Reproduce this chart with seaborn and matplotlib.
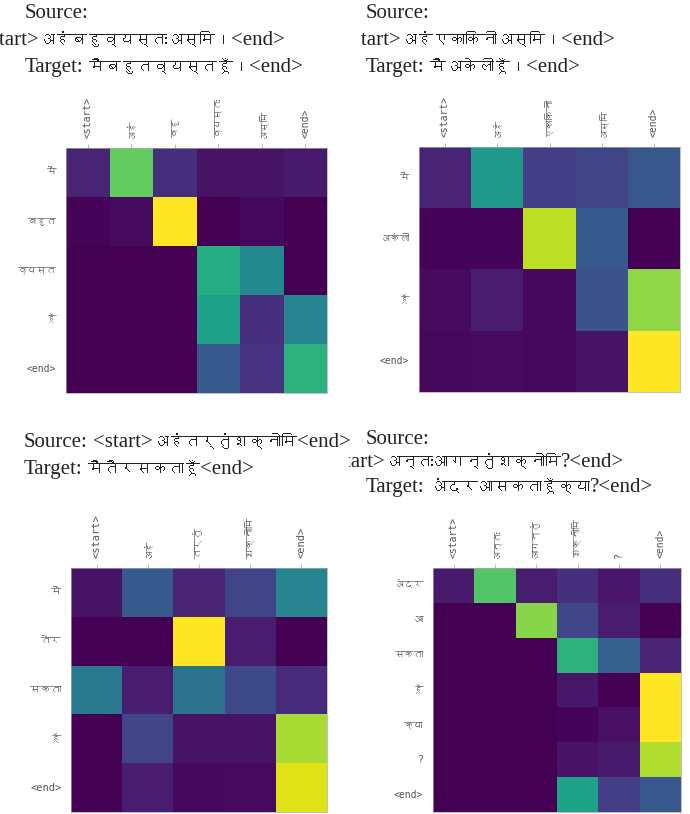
import re
import numpy as np
import matplotlib
matplotlib.use("Agg")
import matplotlib.pyplot as plt
import seaborn as sns
from matplotlib import font_manager
from matplotlib.ft2font import FT2Font

# ---------------- data (attention weights) ----------------
SRC_1 = ["<start>", "अहं", "बहु", "व्यस्तः", "अस्मि", "<end>"]
TGT_1 = ["मैं", "बहुत", "व्यस्त", "हूँ", "<end>"]
ATT_1 = [
    [0.10, 0.76, 0.13, 0.05, 0.05, 0.07],
    [0.01, 0.03, 1.00, 0.00, 0.02, 0.00],
    [0.00, 0.00, 0.00, 0.62, 0.47, 0.00],
    [0.00, 0.00, 0.00, 0.57, 0.14, 0.45],
    [0.00, 0.00, 0.00, 0.28, 0.15, 0.64],
]

SRC_2 = ["<start>", "अहं", "एकाकिनी", "अस्मि", "<end>"]
TGT_2 = ["मैं", "अकेली", "हूँ", "<end>"]
ATT_2 = [
    [0.10, 0.54, 0.18, 0.20, 0.27],
    [0.01, 0.01, 0.90, 0.28, 0.00],
    [0.03, 0.08, 0.02, 0.25, 0.83],
    [0.02, 0.03, 0.02, 0.05, 1.00],
]

SRC_3 = ["<start>", "अहं", "तर्तुं", "शक्नोमि", "<end>"]
TGT_3 = ["मैं", "तैर", "सकता", "हूँ", "<end>"]
ATT_3 = [
    [0.05, 0.28, 0.10, 0.20, 0.45],
    [0.00, 0.00, 1.00, 0.08, 0.00],
    [0.40, 0.08, 0.38, 0.22, 0.12],
    [0.00, 0.20, 0.05, 0.05, 0.87],
    [0.00, 0.08, 0.02, 0.03, 0.95],
]

SRC_4 = ["<start>", "अन्तः", "आगन्तुं", "शक्नोमि", "?", "<end>"]
TGT_4 = ["अंदर", "आ", "सकता", "हूँ", "क्या", "?", "<end>"]
ATT_4 = [
    [0.07, 0.73, 0.08, 0.14, 0.06, 0.13],
    [0.00, 0.00, 0.82, 0.21, 0.08, 0.00],
    [0.00, 0.00, 0.00, 0.64, 0.30, 0.10],
    [0.00, 0.00, 0.00, 0.06, 0.00, 1.00],
    [0.00, 0.00, 0.00, 0.01, 0.04, 1.00],
    [0.00, 0.00, 0.00, 0.05, 0.07, 0.88],
    [0.00, 0.00, 0.00, 0.57, 0.18, 0.27],
]

SOURCES = ["<start>अहंबहुव्यस्तःअस्मि।<end>",
           "<start>अहंएकाकिनीअस्मि।<end>",
           "<start>अहंतर्तुंशक्नोमि<end>",
           "<start>अन्तःआगन्तुंशक्नोमि?<end>"]
TARGETS = ["मैंबहुतव्यस्तहूँ।<end>",
           "मैंअकेलीहूँ।<end>",
           "मैंतैरसकताहूँ<end>",
           "अंदरआसकताहूँक्या?<end>"]


# ---------------- fonts ----------------
def find_devanagari():
    for f in font_manager.fontManager.ttflist:
        try:
            if 0x0905 in FT2Font(f.fname).get_charmap():
                return f.name
        except Exception:
            pass
    return None


sns.set_style("white")
deva = find_devanagari()
SERIF = ["Liberation Serif"] + ([deva] if deva else [])
MONO = ["DejaVu Sans Mono"] + ([deva] if deva else [])

W, H = 690, 814
fig = plt.figure(figsize=(W / 100, H / 100), dpi=100)
fig.patch.set_facecolor("white")
renderer = fig.canvas.get_renderer()


def rect(left, right, top, bottom):
    return [left / W, 1 - bottom / H, (right - left) / W, (bottom - top) / H]


def draw_panel(box, att, src, tgt, fs):
    ax = fig.add_axes(rect(*box))
    sns.heatmap(np.array(att), ax=ax, cmap="viridis", vmin=0, vmax=1, cbar=False,
                xticklabels=src, yticklabels=tgt, square=False)
    ax.xaxis.tick_top()
    ax.tick_params(axis="both", length=3, width=0.5, color="#999999", pad=4)
    for t in ax.get_xticklabels():
        t.set_rotation(90)
        t.set_family(MONO)
        t.set_fontsize(fs)
        t.set_color("#555555")
    for t in ax.get_yticklabels():
        t.set_rotation(0)
        t.set_family(MONO)
        t.set_fontsize(fs)
        t.set_color("#555555")
    for s in ax.spines.values():
        s.set_visible(True)
        s.set_linewidth(0.5)
        s.set_color("#aaaaaa")
    return ax


draw_panel((66, 327, 148, 393), ATT_1, SRC_1, TGT_1, 7)
draw_panel((419, 680, 147, 392), ATT_2, SRC_2, TGT_2, 7)
draw_panel((71, 327, 568, 812), ATT_3, SRC_3, TGT_3, 7.5)
draw_panel((433, 681, 568, 812), ATT_4, SRC_4, TGT_4, 7)

# ---------------- captions ----------------
# matplotlib does no Devanagari shaping, so those runs come out wide;
# draw them a bit smaller so each line keeps roughly the reference length
TXT = dict(family=SERIF, color="#222222", va="baseline", ha="left")
LATIN_FS, DEVA_FS = 15, 11.5
DEVA_RUN = re.compile(r"([\u0900-\u097F]+)")


def caption(x, y, s, label=None, clip=None):
    host = fig
    if clip is not None:
        host = fig.add_axes(rect(clip[0], clip[1], y - 30, y + 10))
        host.axis("off")
    cur = x
    chunks = []
    if label:
        chunks.append(label)
    chunks += [c for c in DEVA_RUN.split(s) if c]
    for i, c in enumerate(chunks):
        fs = DEVA_FS if DEVA_RUN.fullmatch(c) else LATIN_FS
        t = host.text(cur / W, 1 - y / H, c, transform=fig.transFigure,
                      fontsize=fs, clip_on=clip is not None, **TXT)
        cur += t.get_window_extent(renderer).width
        if label and i == 0:
            cur += 5


caption(25, 18, "", label="Source:")
caption(-21, 45, SOURCES[0], clip=(0, 345))
caption(25, 72, TARGETS[0], label="Target:")

caption(366, 18, "", label="Source:")
caption(341, 45, SOURCES[1], clip=(361, 690))
caption(366, 72, TARGETS[1], label="Target:")

caption(24, 447, SOURCES[2], label="Source:")
caption(24, 474, TARGETS[2], label="Target:")

caption(366, 444, "", label="Source:")
caption(325, 467, SOURCES[3], clip=(349, 690))
caption(366, 492, TARGETS[3], label="Target:")

fig.savefig("out.png", dpi=100)
